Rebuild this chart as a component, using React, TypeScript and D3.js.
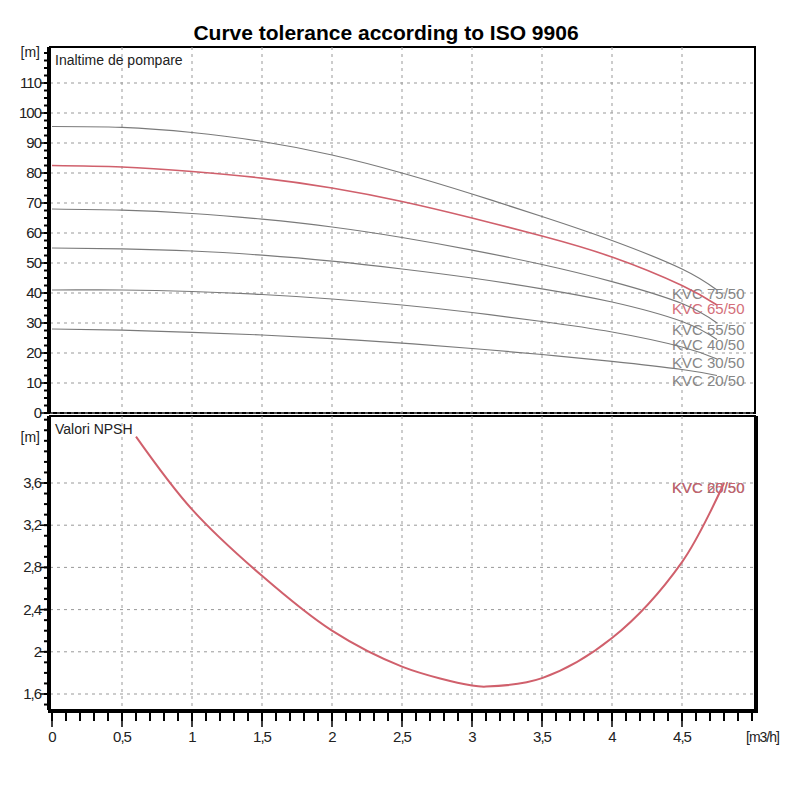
import React, { useEffect, useRef } from 'react';
import * as d3 from 'd3';

const flowPoints = [0, 0.5, 1, 1.5, 2, 2.5, 3, 3.5, 4, 4.5, 4.75];
const headSeries = [
  { name: 'KVC 75/50', values: [95.5, 95.2, 93.5, 90.5, 86, 80, 73, 65.5, 57.5, 48, 41], red: false },
  { name: 'KVC 65/50', values: [82.5, 82, 80.5, 78.3, 75, 70.5, 65, 59, 52, 42.5, 36], red: true },
  { name: 'KVC 55/50', values: [68, 67.6, 66.5, 64.6, 62, 58.5, 54.3, 49.5, 43.8, 36.5, 30], red: false },
  { name: 'KVC 40/50', values: [55, 54.7, 54, 52.6, 50.6, 48, 45, 41.4, 37, 30.5, 24.5], red: false },
  { name: 'KVC 30/50', values: [41, 41, 40.5, 39.5, 38, 36, 33.5, 30.5, 27, 22, 18], red: false },
  { name: 'KVC 20/50', values: [28, 27.6, 26.9, 26, 24.8, 23.3, 21.5, 19.5, 17.2, 14.5, 12.5], red: false },
];
const labelHeads = [40, 35, 28, 23, 17, 11];
const npshFlow = [0.6, 1, 1.5, 2, 2.5, 3, 3.1, 3.5, 4, 4.5, 4.8];
const npshValues = [4.04, 3.35, 2.72, 2.2, 1.86, 1.68, 1.67, 1.75, 2.13, 2.85, 3.6];
const xTicks = [0, 0.5, 1, 1.5, 2, 2.5, 3, 3.5, 4, 4.5];
const headTicks = [0, 10, 20, 30, 40, 50, 60, 70, 80, 90, 100, 110];
const npshTicks = [1.6, 2, 2.4, 2.8, 3.2, 3.6];

const GRAY = '#7a7a7a';
const RED = '#d0606c';

const App: React.FC = () => {
  const ref = useRef<SVGSVGElement>(null);

  useEffect(() => {
    const svg = d3.select(ref.current);
    svg.selectAll('*').remove();
    const font = 'Liberation Sans, Arial, sans-serif';
    const left = 50, right = 755;
    const x = d3.scaleLinear().domain([0, 5]).range([52, 752]);
    const yH = d3.scaleLinear().domain([0, 110]).range([413, 83]);
    const yN = d3.scaleLinear().domain([1.6, 3.6]).range([694, 483]);
    const fmt = (v: number) => String(v).replace('.', ',');

    svg.append('text').attr('x', 386).attr('y', 40).attr('text-anchor', 'middle')
      .attr('font-family', font).attr('font-weight', 'bold').attr('font-size', 21)
      .text('Curve tolerance according to ISO 9906');

    const panel = (top: number, bottom: number, y: d3.ScaleLinear<number, number>, ticks: number[], minorStep: number, title: string, fmtY: (v: number) => string, unitY: number) => {
      const g = svg.append('g');
      g.append('rect').attr('x', left).attr('y', top).attr('width', right - left).attr('height', bottom - top)
        .attr('fill', 'white').attr('stroke', 'black').attr('stroke-width', 2);
      xTicks.slice(1).forEach((t) => {
        g.append('line').attr('x1', x(t)).attr('x2', x(t)).attr('y1', top).attr('y2', bottom)
          .attr('stroke', '#999').attr('stroke-dasharray', '3,4').attr('stroke-width', 1);
      });
      ticks.forEach((t) => {
        g.append('line').attr('x1', left).attr('x2', right).attr('y1', y(t)).attr('y2', y(t))
          .attr('stroke', '#999').attr('stroke-dasharray', '3,4').attr('stroke-width', 1);
      });
      const [d0, d1] = [y.invert(bottom), y.invert(top)];
      for (let v = Math.ceil(d0 / minorStep) * minorStep; v <= d1; v += minorStep) {
        g.append('line').attr('x1', left - 6).attr('x2', left).attr('y1', y(v)).attr('y2', y(v))
          .attr('stroke', 'black').attr('stroke-width', 2);
      }
      ticks.forEach((t) => {
        g.append('line').attr('x1', left - 10).attr('x2', left).attr('y1', y(t)).attr('y2', y(t))
          .attr('stroke', 'black').attr('stroke-width', 1.5);
        g.append('text').attr('x', left - 9).attr('y', y(t) + 5).attr('text-anchor', 'end')
          .attr('font-family', font).attr('font-size', 15).attr('fill', '#222')
          .attr('letter-spacing', -1).text(fmtY(t));
      });
      g.append('line').attr('x1', left - 1).attr('x2', left - 1).attr('y1', top).attr('y2', bottom)
        .attr('stroke', 'black').attr('stroke-width', 4);
      g.append('text').attr('x', left - 10).attr('y', unitY).attr('text-anchor', 'end')
        .attr('font-family', font).attr('font-size', 14).attr('fill', '#222').text('[m]');
      g.append('text').attr('x', left + 5).attr('y', top + 18)
        .attr('font-family', font).attr('font-size', 14).attr('fill', '#222').text(title);
    };

    panel(47, 413, yH, headTicks, 2.5, 'Inaltime de pompare', (v) => String(v), 57);
    panel(416, 710, yN, npshTicks, 0.1, 'Valori NPSH', fmt, 442);
    svg.append('line').attr('x1', right + 1).attr('x2', right + 1).attr('y1', 416).attr('y2', 712)
      .attr('stroke', 'black').attr('stroke-width', 4);

    const line = d3.line<number>().curve(d3.curveNatural);

    headSeries.forEach((s, i) => {
      svg.append('path')
        .attr('d', line.x((_d, j) => x(flowPoints[j])).y((d) => yH(d))(s.values))
        .attr('fill', 'none').attr('stroke', s.red ? RED : GRAY).attr('stroke-width', s.red ? 1.6 : 1.2);
      svg.append('text').attr('x', 672).attr('y', yH(labelHeads[i]) + 6)
        .attr('font-family', font).attr('font-size', 15).attr('fill', s.red ? RED : GRAY)
        .attr('opacity', 0.9).text(s.name);
    });

    svg.append('text').attr('x', 672).attr('y', yN(3.56) + 6).attr('font-family', font)
      .attr('font-size', 15).attr('fill', GRAY).text('KVC 20/50');
    svg.append('text').attr('x', 672).attr('y', yN(3.56) + 6).attr('font-family', font)
      .attr('font-size', 15).attr('fill', RED).attr('opacity', 0.9).text('KVC 65/50');
    svg.append('path')
      .attr('d', d3.line<number>().curve(d3.curveCatmullRom).x((_d, j) => x(npshFlow[j])).y((d) => yN(d))(npshValues))
      .attr('fill', 'none').attr('stroke', RED).attr('stroke-width', 2);

    const ax = svg.append('g');
    ax.append('line').attr('x1', left - 2).attr('x2', right + 3).attr('y1', 711).attr('y2', 711)
      .attr('stroke', 'black').attr('stroke-width', 4);
    for (let v = 0; v <= 5.001; v += 0.1) {
      ax.append('line').attr('x1', x(v)).attr('x2', x(v)).attr('y1', 711).attr('y2', 721)
        .attr('stroke', 'black').attr('stroke-width', 2);
    }
    xTicks.forEach((t) => {
      ax.append('line').attr('x1', x(t)).attr('x2', x(t)).attr('y1', 711).attr('y2', 727)
        .attr('stroke', 'black').attr('stroke-width', 1.5);
      ax.append('text').attr('x', x(t)).attr('y', 742).attr('text-anchor', 'middle')
        .attr('font-family', font).attr('font-size', 15).attr('fill', '#222')
        .attr('letter-spacing', -1).text(fmt(t));
    });
    ax.append('text').attr('x', 746).attr('y', 742).attr('font-family', font).attr('font-size', 14)
      .attr('fill', '#222').attr('letter-spacing', -1).text('[m3/h]');
  }, []);

  return <svg ref={ref} width={800} height={800} style={{ position: 'absolute', left: 0, top: 0 }} />;
};

export default App;
